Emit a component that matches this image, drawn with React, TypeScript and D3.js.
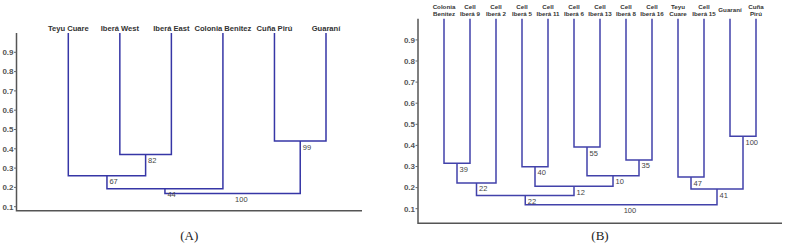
import * as d3 from "d3";
import { useEffect, useRef } from "react";

// Panel A: leaves left to right, merges as [childA, childB, height, support]
// (child indices below leaves.length are leaves, above are earlier merges)
const leavesA = ["Teyu Cuare", "Iberá West", "Iberá East", "Colonia Benitez", "Cuña Pirú", "Guaraní"];
const mergesA: [number, number, number, number][] = [
	[1, 2, 0.37, 82],
	[0, 6, 0.26, 67],
	[4, 5, 0.44, 99],
	[7, 3, 0.193, 44],
	[9, 8, 0.169, 100],
];

// Panel B
const leavesB = [
	"Colonia\nBenitez",
	"Cell\nIberá 9",
	"Cell\nIberá 2",
	"Cell\nIberá 5",
	"Cell\nIberá 11",
	"Cell\nIberá 6",
	"Cell\nIberá 13",
	"Cell\nIberá 8",
	"Cell\nIberá 16",
	"Teyu\nCuare",
	"Cell\nIberá 15",
	"Guaraní",
	"Cuña\nPirú",
];
const mergesB: [number, number, number, number][] = [
	[0, 1, 0.315, 39],
	[13, 2, 0.222, 22],
	[3, 4, 0.299, 40],
	[5, 6, 0.392, 55],
	[7, 8, 0.331, 35],
	[16, 17, 0.256, 10],
	[15, 18, 0.206, 12],
	[14, 19, 0.162, 22],
	[9, 10, 0.25, 47],
	[11, 12, 0.443, 100],
	[21, 22, 0.193, 41],
	[20, 23, 0.119, 100],
];

const yTicks = [0.1, 0.2, 0.3, 0.4, 0.5, 0.6, 0.7, 0.8, 0.9];

interface PanelSpec {
	leaves: string[];
	merges: [number, number, number, number][];
	tag: string;
	leafRange: [number, number];
	yRange: [number, number];
	axisX: number;
	axisRight: number;
	bottom: number;
	labelSize: number;
	labelY: number;
	stroke: string;
}

function drawPanel(svg: d3.Selection<SVGSVGElement, unknown, null, undefined>, spec: PanelSpec) {
	const g = svg.append("g");
	const x = d3.scalePoint<string>().domain(spec.leaves).range(spec.leafRange);
	const y = d3.scaleLinear().domain([0, 1]).range(spec.yRange);

	// axes
	g.append("path")
		.attr("d", `M${spec.axisX},${y(1)}V${spec.bottom}H${spec.axisRight}`)
		.attr("fill", "none")
		.attr("stroke", "#555")
		.attr("stroke-width", 1.5);

	const tick = g.selectAll("g.tick").data(yTicks).join("g").attr("transform", (d) => `translate(${spec.axisX},${y(d)})`);
	tick.append("line").attr("x1", -2.5).attr("x2", 0).attr("stroke", "#666");
	tick.append("text")
		.attr("x", -3)
		.attr("dy", "0.35em")
		.attr("text-anchor", "end")
		.attr("font-size", 8)
		.attr("font-weight", "bold")
		.attr("fill", "#555")
		.text((d) => d3.format(".1f")(d));

	// dendrogram
	const pos = spec.leaves.map((name) => ({ x: x(name) ?? 0, h: 1 }));
	const labels: { x: number; h: number; s: number }[] = [];
	const path = d3.path();
	spec.merges.forEach(([a, b, h, s]) => {
		const pa = pos[a];
		const pb = pos[b];
		path.moveTo(pa.x, y(pa.h));
		path.lineTo(pa.x, y(h));
		path.lineTo(pb.x, y(h));
		path.lineTo(pb.x, y(pb.h));
		const mid = (pa.x + pb.x) / 2;
		pos.push({ x: mid, h });
		labels.push({ x: mid, h, s });
	});

	g.append("path")
		.attr("d", path.toString())
		.attr("fill", "none")
		.attr("stroke", spec.stroke)
		.attr("stroke-width", 1.5);

	g.selectAll("text.support")
		.data(labels)
		.join("text")
		.attr("class", "support")
		.attr("x", (d) => d.x + 2.5)
		.attr("y", (d) => y(d.h) + 8.5)
		.attr("font-size", 7.5)
		.attr("fill", "#444")
		.text((d) => d.s);

	// leaf names
	const leaf = g.selectAll("text.leaf")
		.data(spec.leaves)
		.join("text")
		.attr("class", "leaf")
		.attr("x", (d) => x(d) ?? 0)
		.attr("text-anchor", "middle")
		.attr("font-size", spec.labelSize)
		.attr("font-weight", "bold")
		.attr("fill", "#333");
	leaf.each(function (d) {
		const lines = d.split("\n");
		const lh = spec.labelSize * 1.2;
		const y0 = spec.labelY - ((lines.length - 1) * lh) / 2;
		d3.select(this)
			.selectAll("tspan")
			.data(lines)
			.join("tspan")
			.attr("x", x(d) ?? 0)
			.attr("y", (_, i) => y0 + i * lh)
			.text((t) => t);
	});

	g.append("text")
		.attr("x", (spec.axisX + spec.axisRight) / 2)
		.attr("y", 240)
		.attr("text-anchor", "middle")
		.attr("font-family", "'Liberation Serif', 'DejaVu Serif', serif")
		.attr("font-size", 13)
		.attr("fill", "#222")
		.text(spec.tag);
}

export default function App() {
	const ref = useRef<SVGSVGElement | null>(null);

	useEffect(() => {
		if (!ref.current) return;
		const svg = d3.select(ref.current);
		svg.selectAll("*").remove();

		drawPanel(svg, {
			leaves: leavesA,
			merges: mergesA,
			tag: "(A)",
			leafRange: [68.3, 326],
			yRange: [226, 33],
			axisX: 16.5,
			axisRight: 362,
			bottom: 210.7,
			labelSize: 7.6,
			labelY: 30.5,
			stroke: "#3636a6",
		});

		drawPanel(svg, {
			leaves: leavesB,
			merges: mergesB,
			tag: "(B)",
			leafRange: [444, 756],
			yRange: [229.8, 18.8],
			axisX: 418,
			axisRight: 782,
			bottom: 223.3,
			labelSize: 6.2,
			labelY: 12.4,
			stroke: "#4242aa",
		});
	}, []);

	return (
		<svg
			ref={ref}
			width={787}
			height={247}
			style={{ position: "absolute", left: 0, top: 0, background: "#fff", fontFamily: "'Liberation Sans', Arial, sans-serif" }}
		></svg>
	);
}
